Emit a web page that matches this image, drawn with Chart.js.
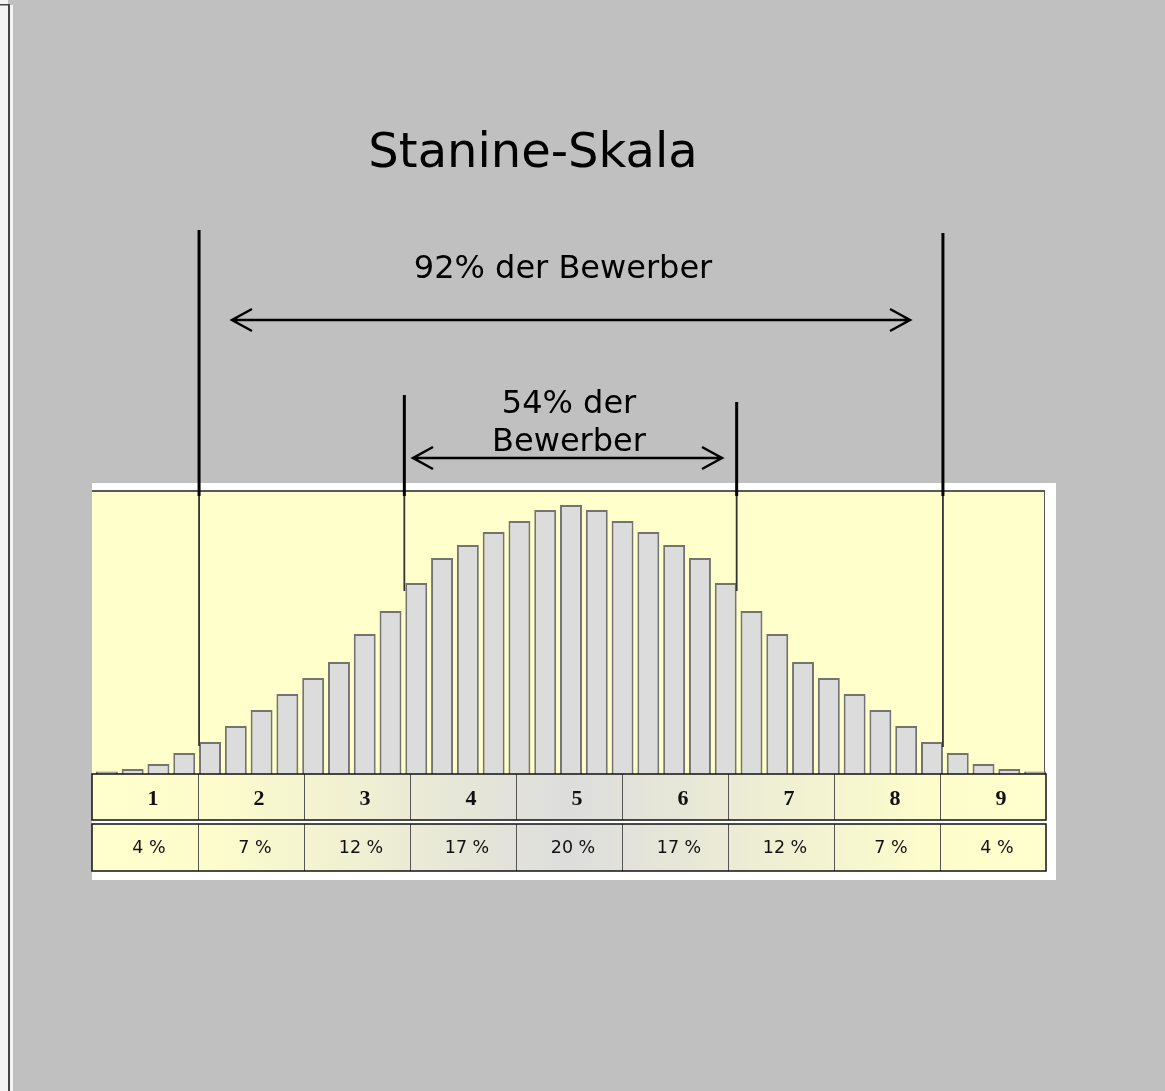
<!DOCTYPE html>
<html>
<head>
<meta charset="utf-8">
<title>Stanine-Skala</title>
<script src="https://cdn.jsdelivr.net/npm/chart.js@4.4.1/dist/chart.umd.min.js"></script>
<style>
  html, body { margin: 0; padding: 0; background: #c0c0c0; }
  canvas { display: block; }
</style>
</head>
<body>
<canvas id="stanine" width="1165" height="1091"></canvas>
<script>
// 37 Säulen der Normalverteilung (Höhe in willkürlichen Einheiten)
var bins = [];
for (var b = 1; b <= 37; b++) bins.push(String(b));
var barHeights = [2.5, 5, 10, 21, 32, 48, 64, 80, 96, 112, 140, 163, 191, 216, 229, 242, 253, 264, 269,
                  264, 253, 242, 229, 216, 191, 163, 140, 112, 96, 80, 64, 48, 32, 21, 10, 5, 2.5];
var stanines = ["1", "2", "3", "4", "5", "6", "7", "8", "9"];
var percents = ["4 %", "7 %", "12 %", "17 %", "20 %", "17 %", "12 %", "7 %", "4 %"];
var titleText = "Stanine-Skala";
var span92 = "92% der Bewerber";
var span54 = ["54% der", "Bewerber"];

function arrow(ctx, x1, x2, y) {
  ctx.beginPath();
  ctx.moveTo(x1, y); ctx.lineTo(x2, y);
  ctx.moveTo(x1 + 20, y - 11); ctx.lineTo(x1, y); ctx.lineTo(x1 + 20, y + 11);
  ctx.moveTo(x2 - 20, y - 11); ctx.lineTo(x2, y); ctx.lineTo(x2 - 20, y + 11);
  ctx.stroke();
}

var decor = {
  id: 'decor',
  beforeDraw: function (chart) {
    var ctx = chart.ctx, a = chart.chartArea;
    ctx.save();
    ctx.fillStyle = '#c0c0c0';
    ctx.fillRect(0, 0, chart.width, chart.height);
    // linker Rand
    ctx.fillStyle = '#f4f4f4';
    ctx.fillRect(0, 0, 8, chart.height);
    ctx.fillRect(10, 5, 3, chart.height);
    ctx.fillStyle = '#444';
    ctx.fillRect(8, 4, 2, chart.height);
    ctx.fillRect(0, 4, 9, 1.5);
    // weißer Rahmen + gelbe Fläche
    ctx.fillStyle = '#ffffff';
    ctx.fillRect(a.left - 2, a.top - 8, a.right - a.left + 10, 397);
    ctx.fillStyle = '#ffffcc';
    ctx.fillRect(a.left - 2, a.top, a.right - a.left - 1, a.bottom - a.top);
    ctx.strokeStyle = '#222';
    ctx.lineWidth = 1.5;
    ctx.beginPath();
    ctx.moveTo(a.left - 2, a.top); ctx.lineTo(a.right - 3, a.top);
    ctx.stroke();
    ctx.strokeStyle = '#555';
    ctx.lineWidth = 1;
    ctx.beginPath();
    ctx.moveTo(a.right - 3.5, a.top); ctx.lineTo(a.right - 3.5, a.bottom);
    ctx.stroke();
    ctx.restore();
  },
  afterDatasetsDraw: function (chart) {
    var ctx = chart.ctx, a = chart.chartArea;
    var xs = chart.scales.x, ys = chart.scales.y;
    var meta = chart.getDatasetMeta(0);
    var half = meta.data[0].width / 2;
    ctx.save();

    // Tabelle unter den Säulen
    var tl = a.left - 2, tr = a.right - 2, cw = (tr - tl) / stanines.length;
    var grad = ctx.createLinearGradient(tl, 0, tr, 0);
    grad.addColorStop(0, '#ffffcc');
    grad.addColorStop(0.12, '#fdfdcc');
    grad.addColorStop(0.5, '#dddddd');
    grad.addColorStop(0.88, '#fdfdcc');
    grad.addColorStop(1, '#ffffcc');
    var rows = [[a.bottom, 46], [a.bottom + 50, 47]];
    rows.forEach(function (r, ri) {
      ctx.fillStyle = grad;
      ctx.fillRect(tl, r[0], tr - tl, r[1]);
      ctx.strokeStyle = '#555';
      ctx.lineWidth = 1;
      for (var c = 1; c < stanines.length; c++) {
        ctx.beginPath();
        ctx.moveTo(Math.round(tl + c * cw) + 0.5, r[0]);
        ctx.lineTo(Math.round(tl + c * cw) + 0.5, r[0] + r[1]);
        ctx.stroke();
      }
      ctx.strokeStyle = '#111';
      ctx.lineWidth = 1.5;
      ctx.strokeRect(tl, r[0], tr - tl, r[1]);
      ctx.fillStyle = '#111';
      ctx.textAlign = 'center';
      for (var k = 0; k < stanines.length; k++) {
        if (ri === 0) {
          ctx.font = 'bold 22px "Liberation Serif", serif';
          ctx.fillText(stanines[k], tl + (k + 0.5) * cw + 8, r[0] + 31);
        } else {
          ctx.font = '17.5px "DejaVu Sans", sans-serif';
          ctx.fillText(percents[k], tl + (k + 0.5) * cw + 4, r[0] + 29);
        }
      }
    });

    // Begrenzungslinien (an Säulenkanten)
    var marks = [
      { x: xs.getPixelForValue(4) - half, top: 230, end: ys.getPixelForValue(barHeights[4]) + 4 },
      { x: xs.getPixelForValue(32) + half, top: 233, end: ys.getPixelForValue(barHeights[32]) + 5 },
      { x: xs.getPixelForValue(12) - half - 1, top: 395, end: ys.getPixelForValue(barHeights[12]) + 8 },
      { x: xs.getPixelForValue(24) + half, top: 402, end: ys.getPixelForValue(barHeights[24]) + 8 }
    ];
    marks.forEach(function (m) {
      ctx.strokeStyle = '#000';
      ctx.lineWidth = 3;
      ctx.beginPath();
      ctx.moveTo(m.x, m.top); ctx.lineTo(m.x, a.top + 5);
      ctx.stroke();
      ctx.strokeStyle = '#333';
      ctx.lineWidth = 1.8;
      ctx.beginPath();
      ctx.moveTo(m.x, a.top + 5); ctx.lineTo(m.x, m.end);
      ctx.stroke();
    });

    // Pfeile
    ctx.strokeStyle = '#000';
    ctx.lineWidth = 2.5;
    ctx.lineJoin = 'miter';
    arrow(ctx, 232, 910, 320);
    arrow(ctx, 413, 722, 458);

    // Texte
    ctx.fillStyle = '#000';
    ctx.textAlign = 'center';
    ctx.font = '48px "DejaVu Sans", sans-serif';
    ctx.fillText(titleText, 533, 167);
    ctx.font = '32px "DejaVu Sans", sans-serif';
    ctx.fillText(span92, 563, 278);
    ctx.fillText(span54[0], 569, 413);
    ctx.fillText(span54[1], 569, 451);
    ctx.restore();
  }
};

var ctx = document.getElementById('stanine').getContext('2d');
var myChart = new Chart(ctx, {
  type: 'bar',
  data: {
    labels: bins,
    datasets: [{
      data: barHeights,
      backgroundColor: '#dcdcdc',
      borderColor: '#737373',
      borderWidth: 2,
      categoryPercentage: 1,
      barPercentage: 0.85
    }]
  },
  options: {
    responsive: false,
    animation: false,
    layout: { padding: { left: 94, right: 117, top: 491, bottom: 317 } },
    scales: {
      x: { display: false },
      y: { display: false, min: 0, max: 283 }
    },
    plugins: {
      legend: { display: false },
      tooltip: { enabled: false }
    }
  },
  plugins: [decor]
});
</script>
</body>
</html>
